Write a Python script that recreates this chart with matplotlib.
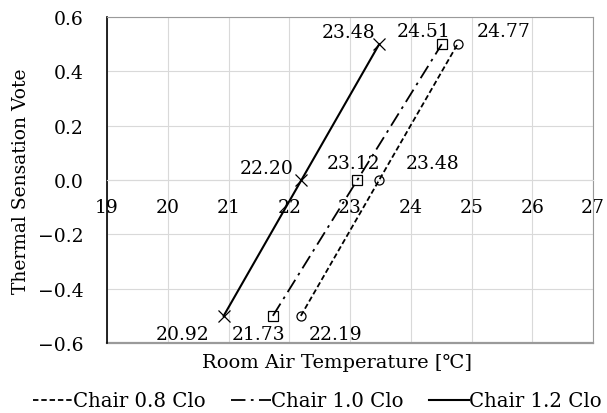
import matplotlib
matplotlib.use("Agg")
import matplotlib.pyplot as plt
from matplotlib.lines import Line2D

plt.rcParams["font.family"] = ["DejaVu Serif", "Noto Sans CJK KR"]

# Thermal sensation vote levels
votes = [-0.5, 0.0, 0.5]

# Room air temperature for each clothing level
temp_08 = [22.19, 23.48, 24.77]
temp_10 = [21.73, 23.12, 24.51]
temp_12 = [20.92, 22.20, 23.48]

series_names = ["Chair 0.8 Clo", "Chair 1.0 Clo", "Chair 1.2 Clo"]

x_ticks = [19, 20, 21, 22, 23, 24, 25, 26, 27]
y_ticks = [-0.6, -0.4, -0.2, 0.0, 0.2, 0.4, 0.6]

DASHED = (0, (3, 1.6))
DASHDOT = (0, (8, 3, 1.5, 3))

fig = plt.figure(figsize=(6.07, 4.14), dpi=100)
ax = fig.add_axes([0.1763, 0.169, 0.8007, 0.7875])

ax.plot(temp_08, votes, color="black", linestyle=DASHED, lw=1.3,
        marker="o", ms=6.5, mfc="none", mew=0.9, zorder=3)
ax.plot(temp_10, votes, color="black", linestyle=DASHDOT, lw=1.3,
        marker="s", ms=7, mfc="none", mew=0.9, zorder=3)
ax.plot(temp_12, votes, color="black", linestyle="-", lw=1.5,
        marker="x", ms=8, mew=0.9, zorder=3)

fs = 13.5
# value label offsets, pixels from the point (y up)
offsets_08 = [(35, -18), (53, 17), (46, 13)]
offsets_10 = [(-14, -18), (-4, 17), (-18, 13)]
offsets_12 = [(-41, -18), (-35, 12), (-31, 12)]
for temps, offs in [(temp_08, offsets_08), (temp_10, offsets_10), (temp_12, offsets_12)]:
    for t, v, (dx, dy) in zip(temps, votes, offs):
        ax.annotate(f"{t:.2f}", (t, v), xytext=(dx, dy), textcoords="offset pixels",
                    ha="center", va="center", fontsize=fs, zorder=4)

ax.set_xlim(19, 27)
ax.set_ylim(-0.6, 0.6)
ax.set_xticks(x_ticks)
ax.set_yticks(y_ticks)
ax.set_yticklabels([f"{v:.1f}".replace("-", "\u2212") for v in y_ticks])
ax.tick_params(axis="both", length=0, labelsize=fs)
ax.tick_params(axis="x", pad=13)
ax.tick_params(axis="y", pad=17)

ax.grid(True, color="#d9d9d9", lw=0.8)
ax.set_axisbelow(True)
ax.spines["bottom"].set_position(("data", 0))
ax.spines["bottom"].set_color("#d9d9d9")
ax.spines["top"].set_color("#9a9a9a")
ax.spines["right"].set_color("#9a9a9a")
ax.spines["left"].set_color("black")
ax.spines["left"].set_linewidth(1.2)
ax.axhline(-0.6, color="#9a9a9a", lw=1.6, clip_on=False)

ax.set_xlabel("Room Air Temperature [\u2103]", fontsize=14, va="center")
ax.xaxis.set_label_coords(0.473, -0.058)
ax.set_ylabel("Thermal Sensation Vote", fontsize=fs, va="center")
ax.yaxis.set_label_coords(-0.177, 0.5)

handles = [
    Line2D([], [], color="black", linestyle=DASHED, lw=1.3),
    Line2D([], [], color="black", linestyle=DASHDOT, lw=1.3),
    Line2D([], [], color="black", linestyle="-", lw=1.5),
]
fig.legend(handles, series_names, loc="center", bbox_to_anchor=(0.523, 0.029),
           ncol=3, frameon=False, fontsize=14.2, handlelength=2.0,
           handletextpad=0.0, columnspacing=1.32, borderpad=0)

fig.savefig("out.png", dpi=100)
